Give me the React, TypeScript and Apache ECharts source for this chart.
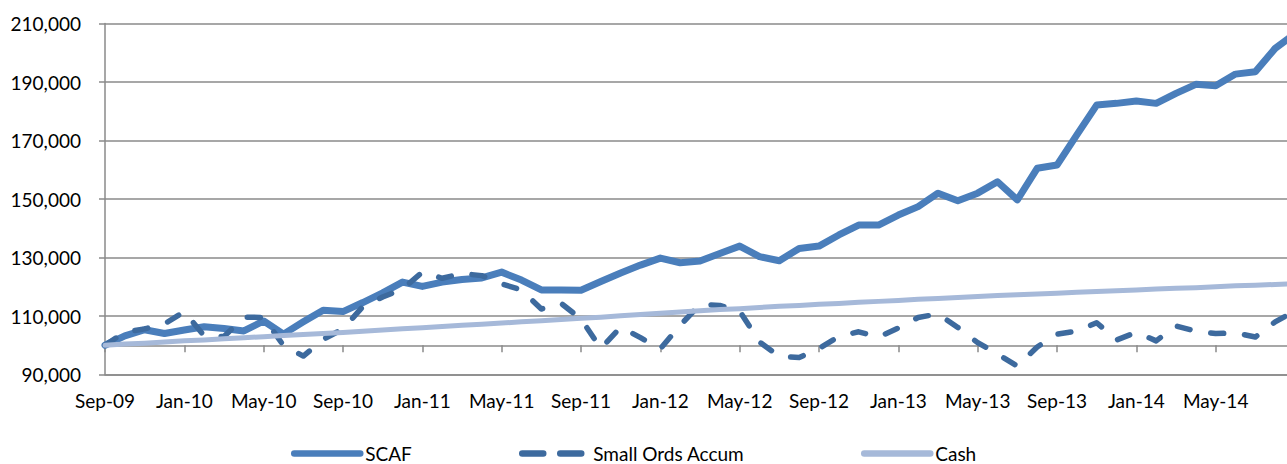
import React, { useEffect, useRef } from 'react';
import * as echarts from 'echarts';

const categories = [
  'Sep-09', 'Oct-09', 'Nov-09', 'Dec-09',
  'Jan-10', 'Feb-10', 'Mar-10', 'Apr-10', 'May-10', 'Jun-10', 'Jul-10', 'Aug-10', 'Sep-10', 'Oct-10', 'Nov-10', 'Dec-10',
  'Jan-11', 'Feb-11', 'Mar-11', 'Apr-11', 'May-11', 'Jun-11', 'Jul-11', 'Aug-11', 'Sep-11', 'Oct-11', 'Nov-11', 'Dec-11',
  'Jan-12', 'Feb-12', 'Mar-12', 'Apr-12', 'May-12', 'Jun-12', 'Jul-12', 'Aug-12', 'Sep-12', 'Oct-12', 'Nov-12', 'Dec-12',
  'Jan-13', 'Feb-13', 'Mar-13', 'Apr-13', 'May-13', 'Jun-13', 'Jul-13', 'Aug-13', 'Sep-13', 'Oct-13', 'Nov-13', 'Dec-13',
  'Jan-14', 'Feb-14', 'Mar-14', 'Apr-14', 'May-14', 'Jun-14', 'Jul-14', 'Aug-14', 'Sep-14',
];

const scaf = [
  100000, 103200, 105300, 104000, 105200, 106300, 105700, 104900, 108300, 103800,
  108000, 112000, 111500, 114600, 117900, 121600, 120100, 121600, 122500, 123000,
  125000, 122300, 118900, 118900, 118800, 121800, 124700, 127400, 129800, 128200,
  128800, 131400, 133900, 130300, 128900, 133100, 133900, 137700, 141100, 141100,
  144500, 147400, 152000, 149400, 152000, 155900, 149700, 160500, 161600, 171900,
  182100, 182700, 183500, 182700, 186100, 189200, 188700, 192700, 193500, 201500,
  206500,
];

const smallOrds = [
  100000, 104500, 105600, 107300, 111500, 103200, 103000, 109600, 109500, 99900,
  96300, 102000, 105600, 113200, 116500, 119200, 125000, 122900, 124500, 123800,
  121000, 118900, 112400, 114300, 109000, 98900, 106200, 102600, 98800, 106800,
  114000, 113600, 111700, 101100, 96200, 95800, 98900, 103000, 104600, 102800,
  105900, 109500, 110700, 106100, 100900, 97000, 92900, 99400, 103800, 104800,
  107700, 101800, 104400, 101500, 106600, 104800, 104000, 104200, 102800, 108000,
  111700,
];

const cash = [
  100000, 100400, 100700, 101100, 101500, 101800, 102200, 102600, 102900, 103300,
  103700, 104000, 104400, 104800, 105200, 105600, 106000, 106400, 106800, 107200,
  107600, 108000, 108400, 108800, 109200, 109600, 110100, 110500, 110900, 111400,
  111800, 112200, 112500, 112900, 113300, 113600, 114000, 114300, 114700, 115000,
  115300, 115700, 116000, 116300, 116700, 117000, 117300, 117500, 117800, 118100,
  118400, 118600, 118900, 119200, 119500, 119700, 120000, 120300, 120500, 120800,
  121100,
];

const seriesNames = ['SCAF', 'Small Ords Accum', 'Cash'];
const yTicks = { min: 90000, max: 210000, interval: 20000 };

const FONT = 'Lato';
const GRID_COLOR = '#8a8a8a';
const COLORS = ['#4A7EBB', '#3D6A9E', '#A6B9D9'];
const WIDTHS = [7, 5.5, 5];

export default function App() {
  const ref = useRef<HTMLDivElement>(null);

  useEffect(() => {
    if (!ref.current) return;
    const chart = echarts.init(ref.current, undefined, { renderer: 'svg' });
    const lineAxisStyle = { color: GRID_COLOR, width: 1.5 };
    const legendLefts = [286, 514, 856];
    const legendDash: any[] = ['solid', [21, 17], 'solid'];
    const legends = seriesNames.map((name, i) => ({
      left: legendLefts[i],
      top: 439,
      itemWidth: 66,
      itemHeight: 14,
      itemGap: 0,
      textStyle: { fontSize: 19, color: '#000', fontFamily: FONT },
      data: [
        {
          name,
          itemStyle: { opacity: 0 },
          lineStyle: { color: COLORS[i], width: 6.5, type: legendDash[i], cap: 'round' },
        },
      ],
    }));
    chart.setOption({
      animation: false,
      textStyle: { fontFamily: FONT, color: '#000' },
      grid: { left: 105, right: 25, top: 23.5, bottom: 89.5, containLabel: false },
      legend: legends,
      xAxis: [
        {
          type: 'category',
          data: categories,
          boundaryGap: false,
          axisLine: { show: true, onZero: false, lineStyle: lineAxisStyle },
          axisTick: { show: false },
          axisLabel: {
            interval: (idx: number) => idx % 4 === 0 && idx < categories.length - 1,
            fontSize: 19,
            color: '#000',
            fontFamily: FONT,
            margin: 16,
          },
          splitLine: { show: false },
        },
        {
          type: 'category',
          data: categories,
          boundaryGap: false,
          position: 'bottom',
          offset: -29.25,
          axisLine: { show: true, onZero: false, lineStyle: lineAxisStyle },
          axisTick: { show: true, interval: 3, length: 7, lineStyle: lineAxisStyle },
          axisLabel: { show: false },
          splitLine: { show: false },
        },
      ],
      yAxis: {
        type: 'value',
        min: yTicks.min,
        max: yTicks.max,
        interval: yTicks.interval,
        axisLine: { show: true, lineStyle: lineAxisStyle },
        axisTick: { show: true, length: 6, lineStyle: lineAxisStyle },
        axisLabel: {
          fontSize: 19,
          color: '#000',
          fontFamily: FONT,
          margin: 24,
          formatter: (v: number) => v.toLocaleString('en-US'),
        },
        splitLine: { show: true, lineStyle: lineAxisStyle },
      },
      series: [
        {
          name: seriesNames[0],
          type: 'line',
          data: scaf,
          symbol: 'none',
          itemStyle: { color: COLORS[0] },
          lineStyle: { color: COLORS[0], width: WIDTHS[0], cap: 'round', join: 'round' },
        },
        {
          name: seriesNames[1],
          type: 'line',
          data: smallOrds,
          symbol: 'none',
          itemStyle: { color: COLORS[1] },
          lineStyle: { color: COLORS[1], width: WIDTHS[1], type: [13, 21], cap: 'round', join: 'round' },
        },
        {
          name: seriesNames[2],
          type: 'line',
          data: cash,
          symbol: 'none',
          itemStyle: { color: COLORS[2] },
          lineStyle: { color: COLORS[2], width: WIDTHS[2], cap: 'round', join: 'round' },
        },
      ],
    });
    return () => chart.dispose();
  }, []);

  return (
    <div style={{ position: 'fixed', left: 0, top: 0, width: 1287, height: 464, overflow: 'hidden', background: '#fff' }}>
      <div ref={ref} style={{ width: 1320, height: 464 }} />
    </div>
  );
}
